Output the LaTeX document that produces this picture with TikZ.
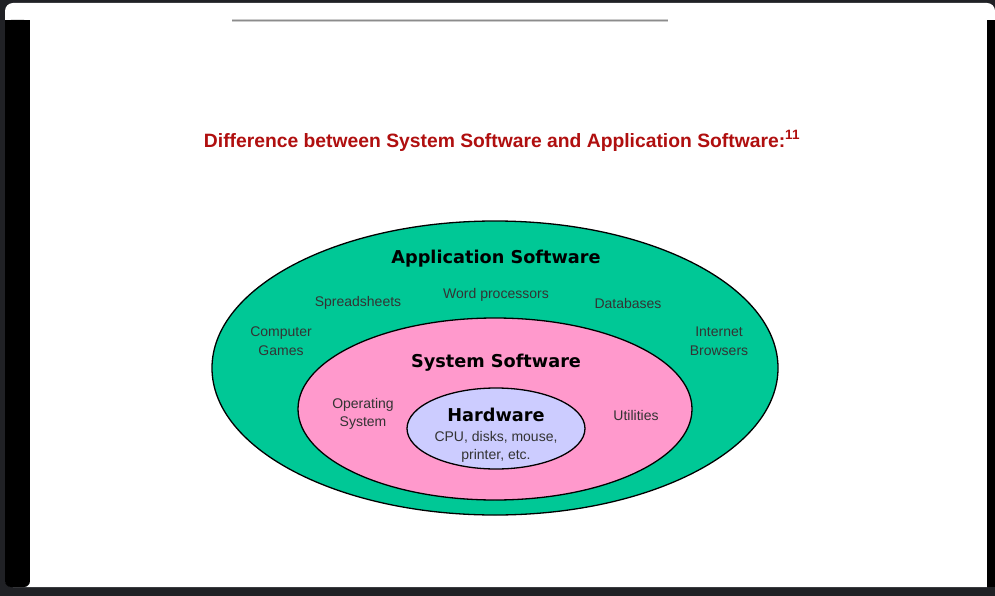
\documentclass[tikz,border=0pt]{standalone}
\usepackage{fontspec}
\setmainfont{Liberation Sans}
\newfontfamily\headfont{DejaVu Sans}
\definecolor{frame}{HTML}{202125}
\definecolor{titlered}{HTML}{B00F0F}
\definecolor{appgreen}{HTML}{00C896}
\definecolor{syspink}{HTML}{FF99CC}
\definecolor{hwblue}{HTML}{CCCCFF}
\definecolor{smalltext}{HTML}{333333}
\tikzset{
  layer/.style={draw=black, line width=1.3pt},
  small/.style={font=\fontsize{14}{18.5}\selectfont, text=smalltext, align=center, inner sep=0pt},
  head/.style={font=\headfont\bfseries\fontsize{17.7}{21}\selectfont, text=black, inner sep=0pt},
}
\begin{document}
\begin{tikzpicture}[x=1pt,y=-1pt]
\useasboundingbox (0,0) rectangle (995,596);
\fill[frame] (0,0) rectangle (995,596);
\fill[white, rounded corners=8pt] (5,3) rectangle (995,587);
\fill[black, rounded corners=6pt] (5,20) |- (30,587) -- (30,20) -- cycle;
\fill[black] (5,20) rectangle (30,40);
\fill[black] (987,20) rectangle (995,587);
\fill[white] (30,20) rectangle (987,587);
% grey top line with shadow
\draw[black!20, line width=3pt] (232,21) -- (668,21);
\draw[black!45, line width=1.3pt] (232,20.5) -- (668,20.5);
% title
\node[font=\bfseries\fontsize{19.3}{22}\selectfont, text=titlered, inner sep=0pt] (title) at (502,141)
  {Difference between System Software and Application Software:\textsuperscript{11}};
% ellipses
\fill[appgreen, layer] (495,368) ellipse [x radius=283, y radius=147];
\fill[syspink, layer] (495,409) ellipse [x radius=197, y radius=91];
\fill[hwblue, layer] (496,428.5) ellipse [x radius=89, y radius=40.5];
% headings
\node[head] (app) at (496,259) {Application Software};
\node[head] (sys) at (496,363) {System Software};
\node[head] (hw) at (496,415) {Hardware};
% small labels
\node[small] (word) at (496,295) {Word processors};
\node[small] (spread) at (358,303) {Spreadsheets};
\node[small] (db) at (628,303) {Databases};
\node[small] (games) at (281,341) {Computer\\Games};
\node[small] (inet) at (719,341) {Internet\\Browsers};
\node[small] (os) at (363,414) {Operating\\System};
\node[small] (util) at (636,415) {Utilities};
\node[small] (cpu) at (496,447) {CPU, disks, mouse,\\printer, etc.};
\end{tikzpicture}
\end{document}
